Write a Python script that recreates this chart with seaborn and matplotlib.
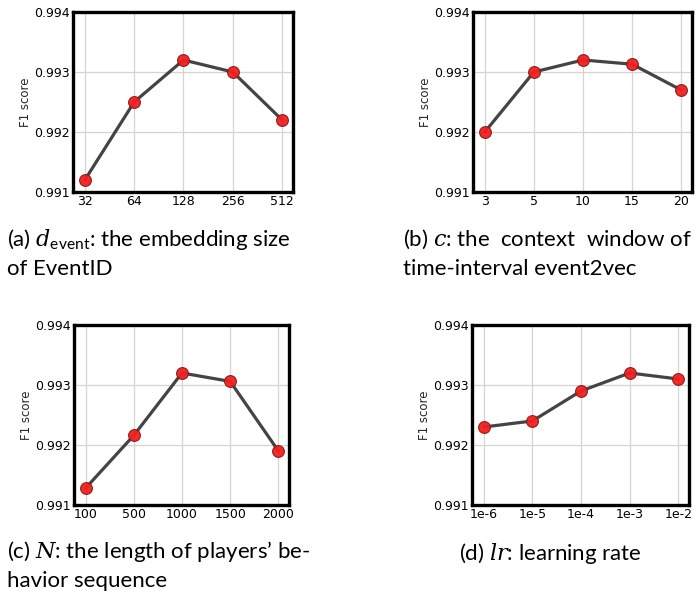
import matplotlib
matplotlib.use("Agg")
import matplotlib.pyplot as plt
import seaborn as sns

# ---- data ----
x_a = ["32", "64", "128", "256", "512"]
f1_a = [0.9912, 0.9925, 0.9932, 0.9930, 0.9922]

x_b = ["3", "5", "10", "15", "20"]
f1_b = [0.9920, 0.9930, 0.9932, 0.99313, 0.9927]

x_c = ["100", "500", "1000", "1500", "2000"]
f1_c = [0.99128, 0.99216, 0.9932, 0.99306, 0.9919]

x_d = ["1e-6", "1e-5", "1e-4", "1e-3", "1e-2"]
f1_d = [0.9923, 0.9924, 0.9929, 0.9932, 0.9931]

y_ticks = [0.991, 0.992, 0.993, 0.994]
y_ticklabels = ["0.991", "0.992", "0.993", "0.994"]

caption_lines = [
    [r"(a) $d_{\mathrm{event}}$: the embedding size", "of EventID"],
    [r"(b) $c$: the  context  window of", "time-interval event2vec"],
    [r"(c) $N$: the length of players’ be-", "havior sequence"],
    [r"(d) $lr$: learning rate"],
]

sns.set_style("whitegrid", {"grid.color": "#d4d4d4", "axes.edgecolor": "black"})
plt.rcParams["font.family"] = ["DejaVu Sans"]
plt.rcParams["mathtext.fontset"] = "custom"
plt.rcParams["mathtext.rm"] = "Lato"
plt.rcParams["mathtext.it"] = "DejaVu Serif:italic"

fig = plt.figure(figsize=(7.0, 5.99), dpi=100)
W, H = 700, 599

def ax_at(l, t, r, b):
    return fig.add_axes([l / W, 1 - b / H, (r - l) / W, (b - t) / H])

axes_px = [(73, 12, 293, 192), (473, 12, 692, 192), (74, 325, 289, 505), (472, 325, 689, 505)]
datasets = [(x_a, f1_a), (x_b, f1_b), (x_c, f1_c), (x_d, f1_d)]

for (l, t, r, b), (xs, ys) in zip(axes_px, datasets):
    ax = ax_at(l, t, r, b)
    idx = list(range(len(xs)))
    sns.lineplot(x=idx, y=ys, ax=ax, color="#3a3a3a", linewidth=2.3, alpha=0.95,
                 marker="o", markersize=8.5,
                 markerfacecolor=(0.95, 0.12, 0.12, 0.82),
                 markeredgecolor="#8a1a1a", markeredgewidth=0.8)
    ax.set_xticks(idx)
    ax.set_xticklabels(xs)
    ax.set_xlim(-0.24, len(xs) - 1 + 0.22)
    ax.set_ylim(0.991, 0.994)
    ax.set_yticks(y_ticks)
    ax.set_yticklabels(y_ticklabels)
    ax.tick_params(axis="both", labelsize=9, length=0, pad=2, colors="black")
    ax.set_ylabel("F1 score", fontsize=8.5, labelpad=2)
    ax.grid(True, linewidth=0.9)
    for sp in ax.spines.values():
        sp.set_linewidth(2.4)
        sp.set_color("black")

cap_font = dict(fontsize=16, family=["Lato", "DejaVu Sans"], color="black")
line_gap = 29
cap_pos = [(7, 246, "left"), (403, 246, "left"), (7, 558, "left"), (550, 560, "center")]
for lines, (cx, cy, ha) in zip(caption_lines, cap_pos):
    for i, line in enumerate(lines):
        fig.text(cx / W, 1 - (cy + i * line_gap) / H, line, ha=ha, va="baseline", **cap_font)

fig.savefig("out.png", dpi=100)
